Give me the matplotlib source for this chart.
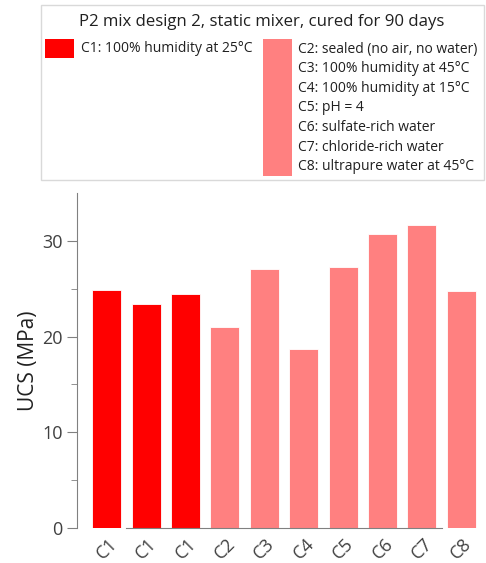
import matplotlib.pyplot as plt
from matplotlib.patches import Rectangle
import matplotlib.transforms as mtransforms

plt.rcParams['font.family'] = ['Open Sans', 'DejaVu Sans']

# -------------------------------
# Data
# -------------------------------
labels = ["C1", "C1", "C1", "C2", "C3", "C4", "C5", "C6", "C7", "C8"]
ucs = [24.9, 23.4, 24.4, 21.05, 27.1, 18.75, 27.3, 30.75, 31.65, 24.8]
groups = ["C1", "C1", "C1", "other", "other", "other", "other", "other", "other", "other"]
group_colors = {"C1": "#FF0000", "other": "#FF8080"}

title = "P2 mix design 2, static mixer, cured for 90 days"
c1_desc = "C1: 100% humidity at 25°C"
other_desc = [
    "C2: sealed (no air, no water)",
    "C3: 100% humidity at 45°C",
    "C4: 100% humidity at 15°C",
    "C5: pH = 4",
    "C6: sulfate-rich water",
    "C7: chloride-rich water",
    "C8: ultrapure water at 45°C",
]

W, H = 486, 563
fig = plt.figure(figsize=(W / 100, H / 100), dpi=100)

# -------------------------------
# Bars
# -------------------------------
ax = fig.add_axes([77 / W, 35 / H, 404 / W, 335 / H])
x = list(range(len(ucs)))
colors = [group_colors[g] for g in groups]
ax.bar(x, ucs, width=0.74, color=colors, edgecolor="white", linewidth=0.6)

ax.set_xlim(-0.754, 9.5)
ax.set_ylim(0, 35)
ax.set_yticks([0, 10, 20, 30])
ax.set_yticks([5, 15, 25], minor=True)
ax.set_xticks(x)
ax.set_xticklabels(labels, rotation=45, ha="center", va="top")
offset = mtransforms.ScaledTranslation(7 / 100, 0, fig.dpi_scale_trans)
for lab in ax.get_xticklabels():
    lab.set_transform(lab.get_transform() + offset)

for s in ["top", "right"]:
    ax.spines[s].set_visible(False)
ax.spines["left"].set_color("#808080")
ax.spines["bottom"].set_color("#808080")
ax.spines["bottom"].set_bounds(0.5, 8.5)
ax.tick_params(axis="y", which="major", length=7, color="#808080", labelsize=13, labelcolor="#404040")
ax.tick_params(axis="y", which="minor", length=4, color="#808080")
ax.tick_params(axis="x", length=0, labelsize=13, labelcolor="#404040", pad=5)
ax.set_ylabel("UCS (MPa)", fontsize=15, color="#202020", labelpad=2)

# -------------------------------
# Legend box (drawn by hand)
# -------------------------------
def fx(px):
    return px / W

def fy(py):
    return 1 - py / H

fig.patches.append(Rectangle((fx(41), fy(180)), fx(443), 175 / H, transform=fig.transFigure,
                             facecolor="white", edgecolor="#D9D9D9", linewidth=1))
fig.text(fx(262), fy(22), title, ha="center", va="center", fontsize=12.1, color="#202020")

fig.patches.append(Rectangle((fx(45), fy(58)), fx(29), 19 / H, transform=fig.transFigure,
                             facecolor=group_colors["C1"], edgecolor="none"))
fig.text(fx(81), fy(49), c1_desc, ha="left", va="center", fontsize=10, color="#202020")

fig.patches.append(Rectangle((fx(263), fy(176)), fx(29), 137 / H, transform=fig.transFigure,
                             facecolor=group_colors["other"], edgecolor="none"))
for i, d in enumerate(other_desc):
    fig.text(fx(298), fy(49.3 + i * 19.55), d, ha="left", va="center", fontsize=10, color="#202020")

fig.savefig("out.png", dpi=100)
